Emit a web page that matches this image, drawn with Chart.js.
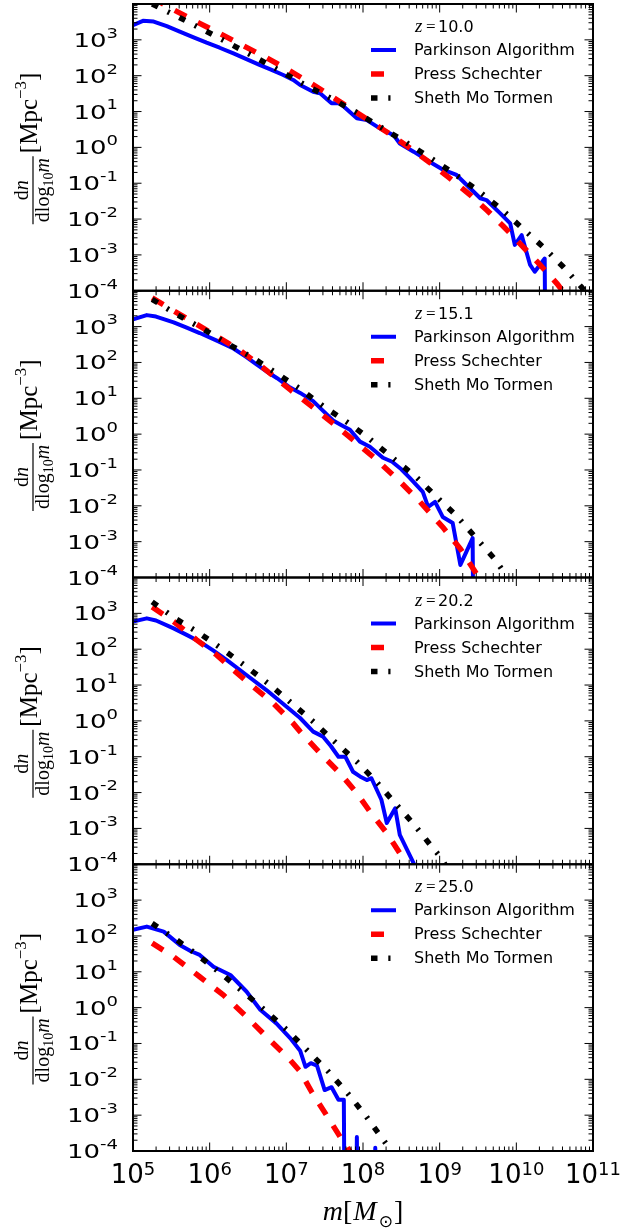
<!DOCTYPE html>
<html><head><meta charset="utf-8">
<script src="https://cdn.jsdelivr.net/npm/chart.js@4.4.1/dist/chart.umd.min.js"></script>
<style>
html,body{margin:0;padding:0;background:#fff;}
#wrap{position:relative;width:633px;height:1230px;overflow:hidden;}
#wrap canvas{position:absolute;left:0;top:0;}
</style></head><body>
<div id="wrap">
<canvas id="c0" width="633" height="1230"></canvas>
<canvas id="c1" width="633" height="1230"></canvas>
<canvas id="c2" width="633" height="1230"></canvas>
<canvas id="c3" width="633" height="1230"></canvas>
</div>
<script>
// ---------------- DATA (log10 values) ----------------
const redshiftLabels = ['10.0', '15.1', '20.2', '25.0'];
const seriesNames = ['Parkinson Algorithm', 'Press Schechter', 'Sheth Mo Tormen'];
const xTickExponents = [5, 6, 7, 8, 9, 10, 11];
const yTickExponents = [-4, -3, -2, -1, 0, 1, 2, 3];

// z = 10.0
const z10_parkinson_logm = [5.00,5.13,5.27,5.44,5.61,5.79,5.96,6.13,6.31,6.48,6.65,6.80,6.96,7.09,7.18,7.35,7.44,7.59,7.70,7.92,8.05,8.22,8.40,8.48,8.66,8.83,9.05,9.22,9.31,9.53,9.61,9.79,9.92,9.98,10.07,10.18,10.24,10.37,10.45];
const z10_parkinson_logn = [3.41,3.53,3.51,3.38,3.23,3.07,2.92,2.78,2.62,2.46,2.30,2.17,2.02,1.88,1.74,1.55,1.51,1.23,1.23,0.81,0.76,0.53,0.34,0.11,-0.12,-0.35,-0.63,-0.77,-0.96,-1.42,-1.47,-1.84,-2.12,-2.72,-2.45,-3.28,-3.47,-3.10,null];
const z10_press_logm = [5.25,5.52,5.87,6.13,6.40,6.75,7.01,7.27,7.53,7.83,8.05,8.33,8.61,8.87,9.13,9.40,9.62,9.83,10.09,10.31,10.53,10.62];
const z10_press_logn = [4.18,3.85,3.46,3.18,2.88,2.49,2.18,1.85,1.51,1.09,0.79,0.40,-0.02,-0.42,-0.86,-1.33,-1.76,-2.20,-2.78,-3.28,-3.80,-4.05];
const z10_sheth_logm = [5.25,5.59,5.91,6.24,6.59,6.92,7.22,7.58,7.91,8.22,8.56,8.87,9.18,9.49,9.78,10.05,10.35,10.61,10.85,10.92];
const z10_sheth_logn = [4.00,3.64,3.29,2.92,2.52,2.13,1.77,1.37,0.98,0.58,0.14,-0.28,-0.72,-1.19,-1.68,-2.20,-2.78,-3.33,-3.90,-4.08];

// z = 15.1
const z15_parkinson_logm = [5.00,5.18,5.30,5.53,5.70,5.87,6.10,6.31,6.48,6.62,6.75,6.88,7.05,7.18,7.35,7.48,7.61,7.72,7.83,7.96,8.09,8.26,8.38,8.50,8.61,8.78,8.85,8.94,9.04,9.17,9.27,9.43,9.52];
const z15_parkinson_logn = [3.20,3.32,3.28,3.12,2.97,2.82,2.60,2.39,2.15,1.93,1.74,1.56,1.30,1.15,0.92,0.65,0.38,0.25,0.12,-0.21,-0.35,-0.66,-0.77,-0.98,-1.22,-1.61,-2.03,-1.89,-2.31,-2.48,-3.65,-2.90,null];
const z15_press_logm = [5.25,5.57,6.04,6.40,6.70,7.05,7.40,7.66,7.92,8.18,8.48,8.74,9.05,9.27,9.46,9.52];
const z15_press_logn = [3.80,3.39,2.80,2.33,1.85,1.24,0.66,0.21,-0.25,-0.72,-1.32,-1.88,-2.62,-3.20,-3.83,-4.05];
const z15_sheth_logm = [5.25,5.57,5.90,6.22,6.57,6.87,7.18,7.48,7.81,8.09,8.39,8.68,8.95,9.22,9.48,9.72,9.83,9.88];
const z15_sheth_logn = [3.76,3.34,2.95,2.54,2.12,1.70,1.26,0.78,0.31,-0.14,-0.67,-1.17,-1.73,-2.28,-2.91,-3.49,-3.83,-4.05];

// z = 20.2
const z20_parkinson_logm = [5.00,5.18,5.30,5.53,5.70,5.87,6.05,6.22,6.48,6.74,7.00,7.18,7.35,7.48,7.58,7.68,7.77,7.87,7.96,8.05,8.11,8.24,8.31,8.42,8.48,8.66,8.72];
const z20_parkinson_logn = [2.77,2.86,2.80,2.58,2.40,2.21,1.96,1.70,1.28,0.86,0.40,0.08,-0.30,-0.44,-0.70,-1.00,-1.00,-1.42,-1.55,-1.65,-1.60,-2.20,-2.85,-2.44,-3.18,-3.97,-4.40];
const z20_press_logm = [5.25,5.53,5.83,6.09,6.31,6.57,6.83,7.09,7.18,7.44,7.70,7.92,8.09,8.31,8.48,8.56];
const z20_press_logn = [3.18,2.77,2.26,1.84,1.42,0.95,0.49,-0.07,-0.30,-0.90,-1.46,-2.02,-2.53,-3.13,-3.69,-4.05];
const z20_sheth_logm = [5.25,5.55,5.87,6.18,6.48,6.79,7.07,7.35,7.63,7.92,8.17,8.42,8.67,8.90,9.02,9.08];
const z20_sheth_logn = [3.32,2.86,2.44,1.98,1.51,1.00,0.49,-0.02,-0.58,-1.14,-1.69,-2.30,-2.90,-3.52,-3.82,-4.05];

// z = 25.0
const z25_parkinson_logm = [5.00,5.18,5.40,5.61,5.75,5.87,6.05,6.27,6.48,6.66,6.87,7.05,7.18,7.25,7.32,7.40,7.50,7.59,7.68,7.75,7.83,7.92,8.00,8.08,8.16,8.25];
const z25_parkinson_logn = [2.17,2.26,2.12,1.75,1.58,1.47,1.14,0.91,0.45,-0.06,-0.44,-0.85,-1.20,-1.65,-1.55,-1.62,-2.30,-2.22,-2.57,-2.57,null,-3.61,null,null,-3.91,null];
const z25_press_logm = [5.25,5.53,5.87,6.18,6.48,6.74,7.05,7.18,7.33,7.53,7.70,7.79,7.84];
const z25_press_logn = [1.80,1.42,0.86,0.35,-0.25,-0.81,-1.46,-1.78,-2.35,-3.02,-3.60,-3.88,-4.05];
const z25_sheth_logm = [5.25,5.57,5.87,6.17,6.46,6.74,7.03,7.29,7.55,7.80,8.04,8.26,8.36,8.40];
const z25_sheth_logn = [2.35,1.89,1.42,0.91,0.40,-0.11,-0.67,-1.23,-1.79,-2.39,-3.03,-3.68,-3.97,-4.10];

// empty mass bins (zero counts) fall far below the axis, as a clipped log plot does
const EMPTY_BIN = 1e-30;

// ---------------- helpers ----------------
const SANS = '"DejaVu Sans", sans-serif';
const SERIF = '"Liberation Serif", "DejaVu Serif", serif';

function toPoints(logm, logn) {
  return logm.map((m, i) => ({ x: Math.pow(10, m), y: logn[i] === null ? EMPTY_BIN : Math.pow(10, logn[i]) }));
}

const panels = [
  { z: redshiftLabels[0], series: [[z10_parkinson_logm, z10_parkinson_logn], [z10_press_logm, z10_press_logn], [z10_sheth_logm, z10_sheth_logn]] },
  { z: redshiftLabels[1], series: [[z15_parkinson_logm, z15_parkinson_logn], [z15_press_logm, z15_press_logn], [z15_sheth_logm, z15_sheth_logn]] },
  { z: redshiftLabels[2], series: [[z20_parkinson_logm, z20_parkinson_logn], [z20_press_logm, z20_press_logn], [z20_sheth_logm, z20_sheth_logn]] },
  { z: redshiftLabels[3], series: [[z25_parkinson_logm, z25_parkinson_logn], [z25_press_logm, z25_press_logn], [z25_sheth_logm, z25_sheth_logn]] },
];

const styles = [
  { color: '#0000ff', width: 4, dash: [], order: 3 },
  { color: '#ff0000', width: 5.5, dash: [13, 13], order: 2 },
  { color: '#000000', width: 5.5, dash: [6.5, 10.8, 2.2, 10.8], order: 1 },
];

function drawPow(ctx, e, x, baseline, align, baseSize, supSize, sy, raise) {
  const sup = e < 0 ? '-' + (-e) : String(e);
  ctx.font = baseSize + 'px ' + SANS;
  const wb = ctx.measureText('10').width;
  ctx.font = supSize + 'px ' + SANS;
  const ws = ctx.measureText(sup).width;
  const total = wb + ws;
  const left = align === 'right' ? x - total : x - total / 2;
  ctx.save();
  ctx.translate(left, baseline);
  ctx.scale(1, sy);
  ctx.textAlign = 'left'; ctx.textBaseline = 'alphabetic';
  ctx.font = baseSize + 'px ' + SANS;
  ctx.fillText('10', 0, 0);
  ctx.font = supSize + 'px ' + SANS;
  ctx.fillText(sup, wb, -raise);
  ctx.restore();
}

function runWidth(ctx, items) {
  let w = 0;
  for (const it of items) { ctx.font = it.f; w += ctx.measureText(it.t).width + (it.pad || 0); }
  return w;
}
function drawRun(ctx, items, x, y) {
  for (const it of items) {
    ctx.font = it.f;
    ctx.fillText(it.t, x, y + (it.dy || 0));
    x += ctx.measureText(it.t).width + (it.pad || 0);
  }
}

function drawYTitle(ctx, cy) {
  const fs = 20, ms = 25, ss = 17;
  const up = s => s + 'px ' + SERIF;
  const it = s => 'italic ' + s + 'px ' + SERIF;
  const num = [{ t: 'd', f: up(fs) }, { t: 'n', f: it(fs) }];
  const den = [{ t: 'dlog', f: up(fs) }, { t: '10', f: up(14), dy: 4 }, { t: 'm', f: it(fs) }];
  const main = [{ t: '[', f: up(ms) }, { t: 'Mpc', f: up(ms) }, { t: '\u22123', f: up(ss), dy: -11 }, { t: ']', f: up(ms), pad: 0 }];
  ctx.save();
  ctx.translate(0, cy);
  ctx.rotate(-Math.PI / 2);
  ctx.fillStyle = '#000';
  ctx.textAlign = 'left'; ctx.textBaseline = 'alphabetic';
  const nW = runWidth(ctx, num), dW = runWidth(ctx, den), mW = runWidth(ctx, main);
  const fW = Math.max(nW, dW) + 4, gap = 3;
  const total = fW + gap + mW;
  const u0 = -total / 2;
  // fraction bar
  ctx.strokeStyle = '#000'; ctx.lineWidth = 1.2;
  ctx.beginPath(); ctx.moveTo(u0, 33); ctx.lineTo(u0 + fW, 33); ctx.stroke();
  drawRun(ctx, num, u0 + (fW - nW) / 2, 28);
  drawRun(ctx, den, u0 + (fW - dW) / 2, 49);
  drawRun(ctx, main, u0 + fW + gap, 37);
  ctx.restore();
}

function drawXTitle(ctx, cx, baseline) {
  const items = [
    { t: 'm', f: 'italic 28px ' + SERIF },
    { t: '[', f: '28px ' + SERIF, pad: 1 },
    { t: 'M', f: 'italic 28px ' + SERIF, pad: 2 },
    { t: '\u2299', f: '17px ' + SANS, dy: 7, pad: 1 },
    { t: ']', f: '28px ' + SERIF },
  ];
  ctx.save();
  ctx.fillStyle = '#000'; ctx.textAlign = 'left'; ctx.textBaseline = 'alphabetic';
  const w = runWidth(ctx, items);
  drawRun(ctx, items, cx - w / 2, baseline);
  ctx.restore();
}

const axesPlugin = {
  id: 'mplAxes',
  afterDatasetsDraw(chart) {
    const { ctx, chartArea: a, scales: { x, y } } = chart;
    const opts = chart.options.plugins.mplAxes;
    ctx.save();
    ctx.strokeStyle = '#000'; ctx.fillStyle = '#000';
    ctx.lineWidth = 1;
    const seg = (x1, y1, x2, y2) => { ctx.beginPath(); ctx.moveTo(x1, y1); ctx.lineTo(x2, y2); ctx.stroke(); };
    // x ticks (inward, top and bottom)
    for (let d = 5; d <= 11; d++) {
      for (let k = 1; k <= 9; k++) {
        if (d === 11 && k > 1) break;
        const px = x.getPixelForValue(k * Math.pow(10, d));
        const len = k === 1 ? 8.5 : 4.5;
        seg(px, a.top, px, a.top + len);
        seg(px, a.bottom, px, a.bottom - len);
      }
    }
    // y ticks (inward, left and right)
    for (let d = -4; d <= 4; d++) {
      for (let k = 1; k <= 9; k++) {
        if (d === 4 && k > 1) break;
        const py = y.getPixelForValue(k * Math.pow(10, d));
        const len = k === 1 ? 8.5 : 4.5;
        seg(a.left, py, a.left + len, py);
        seg(a.right, py, a.right - len, py);
      }
    }
    // frame
    ctx.lineWidth = 2;
    ctx.strokeRect(a.left, a.top, a.right - a.left, a.bottom - a.top);
    // y tick labels
    for (const e of yTickExponents) {
      const py = y.getPixelForValue(Math.pow(10, e));
      drawPow(ctx, e, 118, py + 7, 'right', 26, 18, 0.76, 12);
    }
    // x tick labels + x title on the bottom panel only
    if (opts.showX) {
      for (const e of xTickExponents) {
        const px = x.getPixelForValue(Math.pow(10, e));
        drawPow(ctx, e, px, a.bottom + 32, 'center', 26, 18, 1, 8);
      }
      drawXTitle(ctx, (a.left + a.right) / 2, 1220);
    }
    // y title
    drawYTitle(ctx, (a.top + a.bottom) / 2 + 1);
    // legend
    const t = a.top;
    ctx.textAlign = 'left'; ctx.textBaseline = 'alphabetic';
    ctx.font = 'italic 19px ' + SERIF; ctx.fillText('z', 415, t + 28);
    ctx.font = '17px ' + SERIF; ctx.fillText('=', 426, t + 28);
    ctx.font = '16px ' + SANS; ctx.fillText(opts.z, 438, t + 28);
    chart.data.datasets.forEach((ds, i) => {
      const base = t + 51 + 24 * i;
      ctx.save();
      ctx.strokeStyle = ds.borderColor; ctx.lineWidth = ds.borderWidth;
      ctx.lineCap = 'butt';
      ctx.setLineDash(ds.borderDash || []);
      ctx.beginPath(); ctx.moveTo(371, base - 5); ctx.lineTo(396, base - 5); ctx.stroke();
      ctx.restore();
      ctx.fillStyle = '#000';
      ctx.font = '16px ' + SANS;
      ctx.fillText(ds.label, 414, base);
    });
    ctx.restore();
  }
};

const panelTop = [4, 290.75, 577.5, 864.25];
const panelHeight = 286.75;

panels.forEach((p, i) => {
  const datasets = p.series.map((s, j) => ({
    label: seriesNames[j],
    data: toPoints(s[0], s[1]),
    borderColor: styles[j].color,
    backgroundColor: styles[j].color,
    borderWidth: styles[j].width,
    borderDash: styles[j].dash,
    borderCapStyle: 'butt',
    borderJoinStyle: j === 0 ? 'round' : 'miter',
    pointRadius: 0,
    tension: 0,
    fill: false,
    clip: 0,
    order: styles[j].order,
  }));
  new Chart(document.getElementById('c' + i), {
    type: 'line',
    data: { datasets },
    options: {
      responsive: false,
      animation: false,
      events: [],
      layout: { padding: { left: 133, right: 40, top: panelTop[i], bottom: 1230 - panelTop[i] - panelHeight } },
      scales: {
        x: { type: 'logarithmic', min: 1e5, max: 1e11, display: false },
        y: { type: 'logarithmic', min: 1e-4, max: 1e4, display: false },
      },
      plugins: {
        legend: { display: false },
        tooltip: { enabled: false },
        mplAxes: { showX: i === panels.length - 1, z: p.z },
      },
    },
    plugins: [axesPlugin],
  });
});
</script>
</body></html>
